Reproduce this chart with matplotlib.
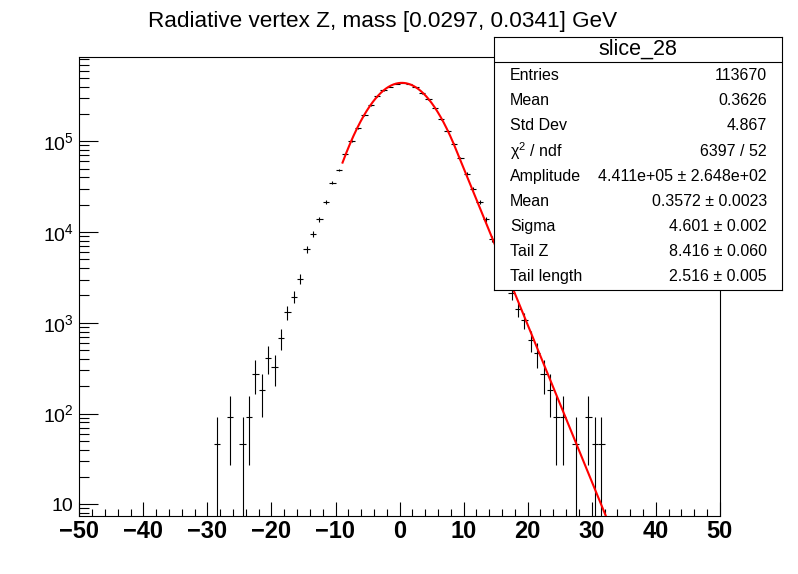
import numpy as np
import matplotlib
matplotlib.use("Agg")
from matplotlib import pyplot as plt
from matplotlib.ticker import MultipleLocator, LogLocator, FuncFormatter, NullFormatter

plt.rcParams['font.family'] = ['Liberation Sans', 'DejaVu Sans']
plt.rcParams['mathtext.fontset'] = 'custom'
plt.rcParams['mathtext.rm'] = 'Liberation Sans'
plt.rcParams['mathtext.it'] = 'Liberation Sans:italic'

# histogram, 1 unit bins, first bin centre at -28.5
z_first = -28.5
counts = [46, 0, 92, 0, 46, 92, 276, 184, 414, 322,
          680, 1306, 1940, 3040, 6460, 9590, 13820, 21430, 35000, 48300,
          71900, 100000, 139000, 195000, 251000, 315000, 367000, 400000, 428000,
          443000, 428000, 396000, 340000, 290000, 231000, 175000, 131000, 92700,
          65000, 44000, 30100, 21300, 13800, 8320, 5600, 3700, 2114, 1409,
          1074, 646, 460, 276, 184, 92, 92, 0, 46, 0, 92, 46, 46]
weight = 46.0  # per-entry weight, sets the error bars

# fit result (gaussian with exponential tail)
amp = 4.411e5
mu = 0.3572
sigma = 4.601
tail_z = 8.416
tail_len = 2.516
fit_lo, fit_hi = -8.9, 34.0

stat_names = ['Entries', 'Mean', 'Std Dev', '\u03c7$^{2}$ / ndf', 'Amplitude',
              'Mean', 'Sigma', 'Tail Z', 'Tail length']
stat_values = ['113670', '0.3626', '4.867', '6397 / 52',
               '4.411e+05 \u00b1 2.648e+02', '0.3572 \u00b1 0.0023',
               '4.601 \u00b1 0.002', '8.416 \u00b1 0.060', '2.516 \u00b1 0.005']


def fit_func(z):
    g = amp * np.exp(-(z - mu) ** 2 / (2 * sigma ** 2))
    edge = amp * np.exp(-(tail_z - mu) ** 2 / (2 * sigma ** 2))
    t = edge * np.exp(-(z - tail_z) / tail_len)
    return np.where(z < tail_z, g, t)


W, H = 798, 574


def fx(x):
    return x / W


def fy(y):
    return 1 - y / H


fig = plt.figure(figsize=(W / 100, H / 100), dpi=100)
ax = fig.add_axes([fx(79.3), fy(516), fx(719.8) - fx(79.3), fy(57) - fy(516)])

vals = np.array(counts, dtype=float)
z = z_first + np.arange(len(vals))
keep = vals > 0
z, vals = z[keep], vals[keep]
err = np.sqrt(vals * weight)
lo = np.minimum(err, vals - 1e-3)

ax.errorbar(z, vals, yerr=[lo, err], xerr=0.5, fmt='none', ecolor='black',
            elinewidth=0.8, capsize=0, zorder=2)

zz = np.linspace(fit_lo, fit_hi, 800)
ax.plot(zz, fit_func(zz), color='red', lw=1.5, zorder=3)

ax.set_yscale('log')
ax.set_xlim(-50, 50)
ax.set_ylim(7.43, 8.5e5)

ax.xaxis.set_major_locator(MultipleLocator(10))
ax.xaxis.set_minor_locator(MultipleLocator(2))
ax.yaxis.set_major_locator(LogLocator(base=10, numticks=20))
ax.yaxis.set_minor_locator(LogLocator(base=10, subs=np.arange(2, 10), numticks=20))
ax.yaxis.set_minor_formatter(NullFormatter())


def ylab(v, pos):
    n = int(round(np.log10(v)))
    if n == 1:
        return '10'
    return r'$\mathregular{10^{%d}}$' % n


ax.yaxis.set_major_formatter(FuncFormatter(ylab))

ax.tick_params(axis='x', which='major', direction='in', length=13.8 * 0.72,
               width=0.8, top=False, pad=3, labelsize=17)
ax.tick_params(axis='x', which='minor', direction='in', length=6.9 * 0.72,
               width=0.8, top=False)
ax.tick_params(axis='y', which='major', direction='in', length=19.2 * 0.72,
               width=0.8, right=False, pad=4, labelsize=14)
ax.tick_params(axis='y', which='minor', direction='in', length=9.6 * 0.72,
               width=0.8, right=False)
for lbl in ax.get_xticklabels():
    lbl.set_fontweight('bold')
for sp in ax.spines.values():
    sp.set_linewidth(0.8)

fig.text(fx(383), fy(22), 'Radiative vertex Z, mass [0.0297, 0.0341] GeV',
         ha='center', va='center', fontsize=16.2)

# stats box
bx0, bx1, by0, by1 = 494, 782, 37.3, 289.5
box = fig.add_axes([fx(bx0), fy(by1), fx(bx1) - fx(bx0), fy(by0) - fy(by1)])
box.set_xticks([])
box.set_yticks([])
box.set_facecolor('white')
for sp in box.spines.values():
    sp.set_linewidth(0.8)
box.axhline((by1 - 62.3) / (by1 - by0), color='black', lw=0.8)
fig.text(fx(638), fy(49.3), 'slice_28', ha='center', va='center', fontsize=15.5)
for i, (name, value) in enumerate(zip(stat_names, stat_values)):
    yy = 75.7 + 25.12 * i
    fig.text(fx(510), fy(yy), name, ha='left', va='center', fontsize=11.5)
    fig.text(fx(767), fy(yy), value, ha='right', va='center', fontsize=11.5)

fig.savefig('out.png', dpi=100)
